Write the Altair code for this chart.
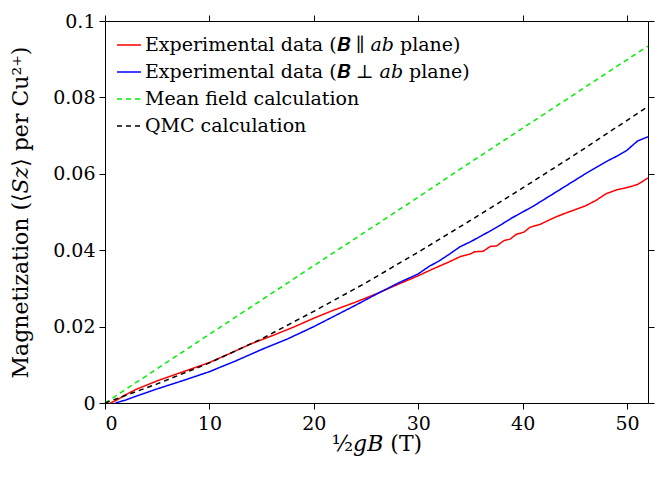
import altair as alt
import pandas as pd

# ---- data ----
series_names = [
    "Experimental data (𝑩 ∥ 𝑎𝑏 plane)",
    "Experimental data (𝑩 ⊥ 𝑎𝑏 plane)",
    "Mean field calculation",
    "QMC calculation",
]
series_colors = ["#ff0000", "#0000ff", "#00ee00", "#000000"]
series_dashes = [[1, 0], [1, 0], [5, 4], [5, 4]]

red_x = [0.5, 1, 2, 3, 5, 7.5, 10, 12, 14, 16, 18, 20, 22, 24, 26, 28, 30, 31, 32, 33,
         34.0, 35.0, 35.4, 36.2, 36.9, 37.5, 38.2, 38.8, 39.4, 40.1, 40.7, 41.7,
         43, 44, 45, 46, 47, 48, 49, 50, 51, 52]
red_y = [0.0, 0.0006, 0.0022, 0.0036, 0.0058, 0.0082, 0.0106, 0.0130, 0.0155, 0.0176,
         0.0198, 0.0222, 0.0244, 0.0264, 0.0286, 0.0310, 0.0333, 0.0346, 0.0358, 0.0370,
         0.0383, 0.0390, 0.0396, 0.0397, 0.0410, 0.0411, 0.0425, 0.0429, 0.0442, 0.0447,
         0.0460, 0.0468, 0.0485, 0.0496, 0.0506, 0.0516, 0.0530, 0.0548, 0.0558, 0.0564,
         0.0572, 0.0589]

blue_x = [1.0, 2, 3, 5, 7.5, 10, 12.5, 15, 17.5, 20, 22, 24, 26, 28, 30, 31, 32, 33, 34,
          35, 36, 37, 38, 39, 40, 41, 42, 43, 44, 45, 46, 47, 48, 49, 50, 51, 52]
blue_y = [0.0, 0.0008, 0.0018, 0.0037, 0.0059, 0.0082, 0.0110, 0.0140, 0.0168, 0.0200,
          0.0228, 0.0256, 0.0285, 0.0313, 0.0338, 0.0357, 0.0372, 0.0390, 0.0409, 0.0422,
          0.0437, 0.0452, 0.0468, 0.0485, 0.0500, 0.0515, 0.0532, 0.0549, 0.0566, 0.0583,
          0.0600, 0.0616, 0.0632, 0.0646, 0.0662, 0.0686, 0.0697]

mf_x = [0, 13.9, 29.5, 34, 51.4, 52]
mf_y = [0.0, 0.0250, 0.0530, 0.0612, 0.0924, 0.0934]

qmc_x = [0, 5, 10, 15, 20, 25, 30, 35, 40, 45, 50, 52]
qmc_y = [0.0, 0.0050, 0.0105, 0.0168, 0.0240, 0.0315, 0.0395, 0.0478, 0.0563, 0.0650,
         0.0740, 0.0776]

x_ticks = [0, 10, 20, 30, 40, 50]
y_ticks = [0, 0.02, 0.04, 0.06, 0.08, 0.1]

x_title = "½𝑔𝐵 (T)"
y_title = "Magnetization (⟨𝑆𝑧⟩ per Cu²⁺)"

rows = []
for name, xs, ys in zip(series_names, [red_x, blue_x, mf_x, qmc_x], [red_y, blue_y, mf_y, qmc_y]):
    for xv, yv in zip(xs, ys):
        rows.append({"series": name, "x": xv, "y": yv})
df = pd.DataFrame(rows)

FONT = "DejaVu Serif"

x_scale = alt.Scale(domain=[0, 52], nice=False, zero=False)
y_scale = alt.Scale(domain=[0, 0.1], nice=False, zero=False)

legend_kw = dict(title=None, orient="none", legendX=11, legendY=11,
                 symbolType="stroke", symbolSize=576, symbolStrokeWidth=1.5,
                 labelFont=FONT, labelFontSize=19, labelLimit=500, rowPadding=4,
                 padding=0, labelOffset=3)

lines = alt.Chart(df).mark_line(strokeWidth=1.5).encode(
    x=alt.X("x:Q", scale=x_scale,
            axis=alt.Axis(values=x_ticks, title=x_title, orient="bottom",
                          labelPadding=5, titlePadding=0)),
    y=alt.Y("y:Q", scale=y_scale,
            axis=alt.Axis(values=y_ticks, title=y_title, orient="left", format="~g",
                          labelPadding=4, titlePadding=20)),
    color=alt.Color("series:N",
                    scale=alt.Scale(domain=series_names, range=series_colors),
                    legend=alt.Legend(**legend_kw)),
    strokeDash=alt.StrokeDash("series:N",
                              scale=alt.Scale(domain=series_names, range=series_dashes),
                              legend=alt.Legend(**legend_kw)),
    detail="series:N",
)

frame = alt.Chart(df).mark_line(opacity=0).encode(
    x=alt.X("x:Q", scale=x_scale,
            axis=alt.Axis(values=x_ticks, title=None, labels=False, orient="top")),
    y=alt.Y("y:Q", scale=y_scale,
            axis=alt.Axis(values=y_ticks, title=None, labels=False, orient="right")),
    detail="series:N",
)

chart = alt.layer(lines, frame).resolve_axis(x="independent", y="independent").properties(
    width=543, height=382,
    autosize=alt.AutoSizeParams(type="none"),
    padding={"left": 97, "top": 13, "right": 8, "bottom": 66},
    background="white",
).configure_view(stroke=None).configure_axis(
    grid=False, domainColor="#000000", tickColor="#000000", labelColor="#000000",
    titleColor="#000000", tickSize=6, domainWidth=1, tickWidth=1,
    labelFont=FONT, labelFontSize=19, titleFont=FONT, titleFontSize=22,
    titleFontWeight="normal",
)

chart.save("out.html", embed_options={"renderer": "svg", "actions": False})
